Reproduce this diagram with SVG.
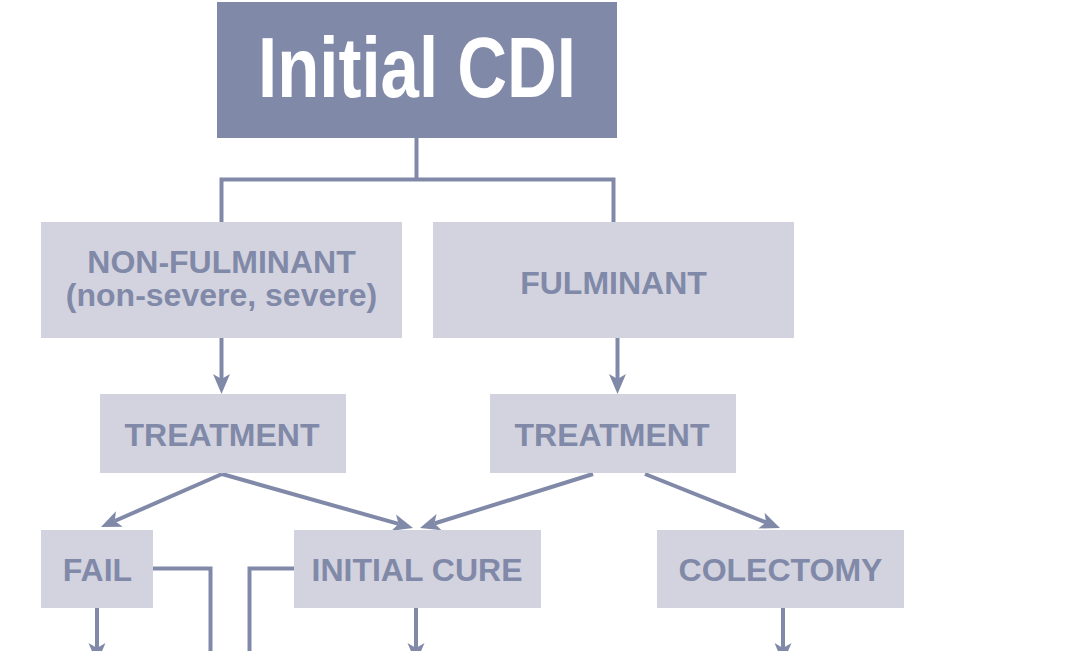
<svg xmlns="http://www.w3.org/2000/svg" width="1092" height="651" viewBox="0 0 1092 651">
<style>
.box{fill:#D3D3DF;}
.dark{fill:#8189A8;}
.lbl{font-family:"Liberation Sans",Arial,sans-serif;font-weight:bold;font-size:32px;fill:#8189A8;text-anchor:middle;}
.title{font-family:"Liberation Sans",Arial,sans-serif;font-weight:bold;font-size:86px;fill:#FFFFFF;text-anchor:middle;}
.ln{fill:none;stroke:#8189A8;stroke-width:4;stroke-linejoin:miter;}
</style>
<defs>
<marker id="ah" markerUnits="userSpaceOnUse" markerWidth="30" markerHeight="30" refX="10" refY="15" orient="auto" viewBox="0 0 30 30">
<path d="M25,15 L5,6.5 L10,15 L5,23.5 Z" fill="#8189A8"/>
</marker>
</defs>
<rect width="1092" height="651" fill="#FFFFFF"/>
<g id="connectors">
<path class="ln" d="M416.5,137 V179.5 M221.5,222 V179.5 H613.5 V222"/>
<path class="ln" d="M221.5,338 V379" marker-end="url(#ah)"/>
<path class="ln" d="M617.5,337 V379" marker-end="url(#ah)"/>
<path class="ln" d="M222,474 L114.75,520.97" marker-end="url(#ah)"/>
<path class="ln" d="M222,474 L398.57,523.92" marker-end="url(#ah)"/>
<path class="ln" d="M593,474 L434.32,523.53" marker-end="url(#ah)"/>
<path class="ln" d="M645,474 L766.08,522.43" marker-end="url(#ah)"/>
<path class="ln" d="M97,608 V648" marker-end="url(#ah)"/>
<path class="ln" d="M416,608 V648" marker-end="url(#ah)"/>
<path class="ln" d="M783,608 V648" marker-end="url(#ah)"/>
<path class="ln" d="M153,568.5 H210.5 V660"/>
<path class="ln" d="M294,568.5 H249.5 V660"/>
</g>
<g id="initial-cdi">
<rect class="dark" x="217" y="2" width="400" height="136"/>
<text class="title" x="417" y="97" textLength="318" lengthAdjust="spacingAndGlyphs">Initial CDI</text>
</g>
<g id="non-fulminant">
<rect class="box" x="41" y="222" width="361" height="116"/>
<text class="lbl" x="221.5" y="273">NON-FULMINANT</text>
<text class="lbl" x="221.5" y="306">(non-severe, severe)</text>
</g>
<g id="fulminant">
<rect class="box" x="433" y="222" width="361" height="116"/>
<text class="lbl" x="613.5" y="294">FULMINANT</text>
</g>
<g id="treatment-left">
<rect class="box" x="100" y="394" width="246" height="79"/>
<text class="lbl" x="222" y="446">TREATMENT</text>
</g>
<g id="treatment-right">
<rect class="box" x="490" y="394" width="246" height="79"/>
<text class="lbl" x="612" y="446">TREATMENT</text>
</g>
<g id="fail">
<rect class="box" x="41" y="530" width="112" height="78"/>
<text class="lbl" x="97.5" y="581">FAIL</text>
</g>
<g id="initial-cure">
<rect class="box" x="294" y="530" width="247" height="78"/>
<text class="lbl" x="417" y="581">INITIAL CURE</text>
</g>
<g id="colectomy">
<rect class="box" x="657" y="530" width="247" height="78"/>
<text class="lbl" x="780.5" y="581">COLECTOMY</text>
</g>
</svg>
